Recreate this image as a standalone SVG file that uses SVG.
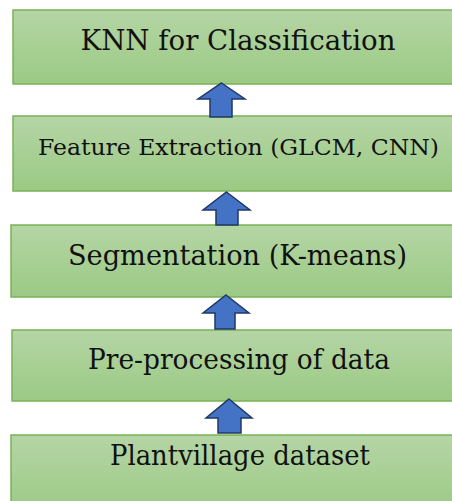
<svg xmlns="http://www.w3.org/2000/svg" width="452" height="501" viewBox="0 0 452 501">
<defs>
<linearGradient id="g" x1="0" y1="0" x2="0" y2="1">
<stop offset="0" stop-color="#b5d5a5"/>
<stop offset="1" stop-color="#9bca84"/>
</linearGradient>
<style>
.box{fill:url(#g);stroke:#78b358;stroke-width:1.5}
.t{fill:#111;text-anchor:middle;font-family:"DejaVu Serif",serif}
.arr{fill:#4472c4;stroke:#1f3864;stroke-width:1.5;stroke-linejoin:miter}
</style>
</defs>
<rect width="452" height="501" fill="#fff"/>
<g id="n1"><rect class="box" x="13" y="10" width="452" height="74"/><text class="t" x="238" y="49.5" font-size="27.8" textLength="315" lengthAdjust="spacingAndGlyphs">KNN for Classification</text></g>
<g id="n2"><rect class="box" x="13" y="116" width="452" height="75"/><text class="t" x="238.5" y="155" font-size="23" textLength="401" lengthAdjust="spacingAndGlyphs">Feature Extraction (GLCM, CNN)</text></g>
<g id="n3"><rect class="box" x="11" y="225" width="454" height="72"/><text class="t" x="237.5" y="265" font-size="28.4" textLength="339" lengthAdjust="spacingAndGlyphs">Segmentation (K-means)</text></g>
<g id="n4"><rect class="box" x="12" y="330" width="453" height="71"/><text class="t" x="239" y="368.5" font-size="27.4" textLength="302" lengthAdjust="spacingAndGlyphs">Pre-processing of data</text></g>
<g id="n5"><rect class="box" x="11" y="435" width="454" height="80"/><text class="t" x="240" y="465" font-size="27.4" textLength="260" lengthAdjust="spacingAndGlyphs">Plantvillage dataset</text></g>
<g id="connectors">
<polygon class="arr" points="221.5,83 245,99 232,99 232,117 210,117 210,99 198,99"/>
<polygon class="arr" points="226.5,192 250,210 238,210 238,225 216,225 216,210 203,210"/>
<polygon class="arr" points="226,295 249,313 235,313 235,329 215,329 215,313 203,313"/>
<polygon class="arr" points="229,399 252,418 241,418 241,433 218,433 218,418 206,418"/>
</g>
</svg>
